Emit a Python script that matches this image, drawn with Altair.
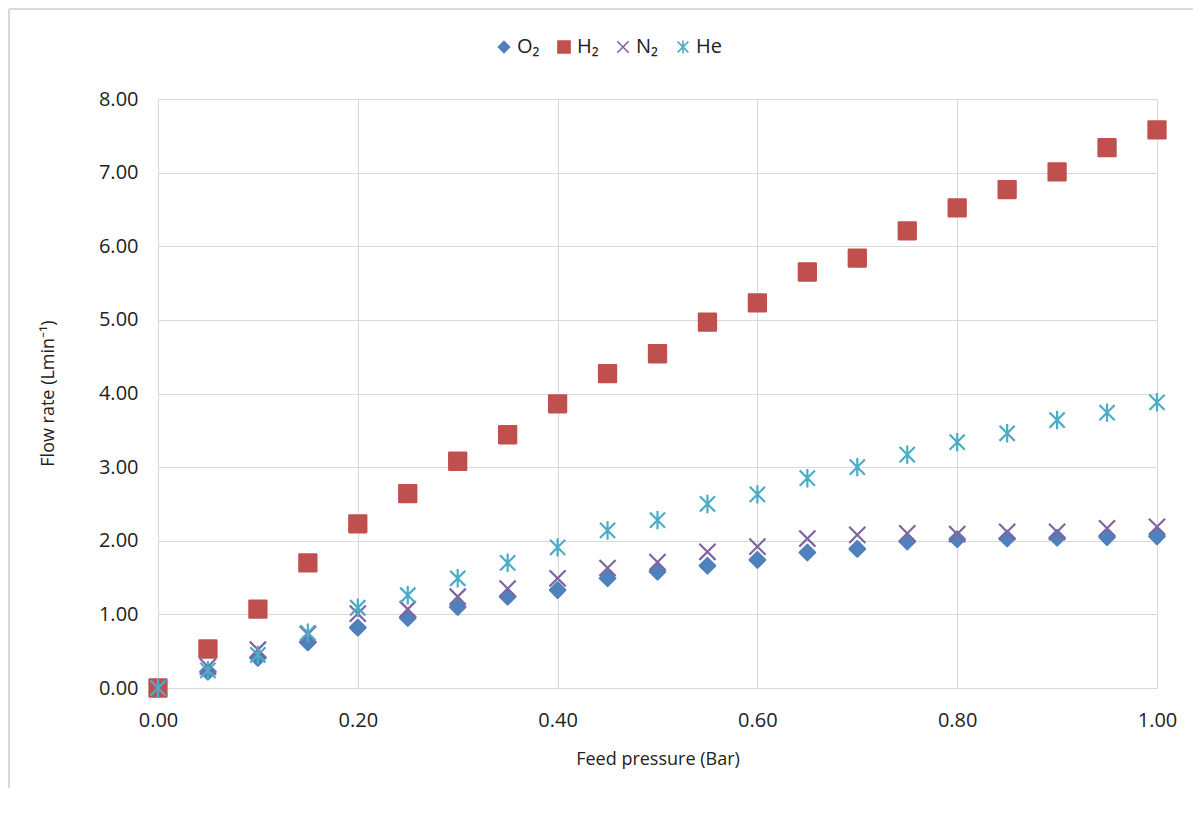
import altair as alt
import pandas as pd

pressure = [0.00, 0.05, 0.10, 0.15, 0.20, 0.25, 0.30, 0.35, 0.40, 0.45, 0.50,
            0.55, 0.60, 0.65, 0.70, 0.75, 0.80, 0.85, 0.90, 0.95, 1.00]
o2 = [0.00, 0.22, 0.41, 0.62, 0.82, 0.95, 1.10, 1.24, 1.33, 1.49, 1.58,
      1.66, 1.74, 1.84, 1.89, 1.99, 2.02, 2.03, 2.04, 2.05, 2.06]
h2 = [0.00, 0.53, 1.07, 1.70, 2.23, 2.64, 3.08, 3.44, 3.86, 4.27, 4.54,
      4.97, 5.23, 5.65, 5.84, 6.21, 6.52, 6.77, 7.01, 7.34, 7.58]
n2 = [0.00, 0.29, 0.52, 0.73, 1.01, 1.07, 1.24, 1.35, 1.49, 1.63, 1.71,
      1.85, 1.92, 2.03, 2.08, 2.10, 2.09, 2.12, 2.12, 2.17, 2.19]
he = [0.00, 0.24, 0.45, 0.75, 1.09, 1.26, 1.49, 1.70, 1.91, 2.14, 2.28,
      2.50, 2.63, 2.85, 3.00, 3.17, 3.34, 3.46, 3.64, 3.74, 3.88]

gases = ["O₂", "H₂", "N₂", "He"]
colors = ["#4F81BD", "#C0504D", "#8064A2", "#4BACC6"]
shapes = [
    "M0,-0.82L0.82,0L0,0.82L-0.82,0Z",
    "M-0.9,-0.9L0.9,-0.9L0.9,0.9L-0.9,0.9Z",
    "M-0.85,-0.85L0.85,0.85M0.85,-0.85L-0.85,0.85",
    "M-0.8,-0.8L0.8,0.8M0.8,-0.8L-0.8,0.8M0,-0.97L0,0.97",
]

rows = []
for k, (g, vals) in enumerate(zip(gases, [o2, h2, n2, he])):
    for p, v in zip(pressure, vals):
        rows.append({"p": p, "v": v, "gas": g, "k": k})
df = pd.DataFrame(rows)

FONT = "Open Sans"
col_scale = alt.Scale(domain=gases, range=colors)
shp_scale = alt.Scale(domain=gases, range=shapes)


def leg():
    return alt.Legend(
        title=None, orient="none", direction="horizontal",
        legendX=336, legendY=-62, symbolSize=180, symbolStrokeWidth=1.6,
        labelFont=FONT, labelFontSize=20, labelColor="#222222",
        labelOffset=3, columnPadding=14, symbolType="circle",
    )


points = alt.Chart(df).mark_point(
    size=361, strokeWidth=2.2, opacity=1, filled=False, strokeJoin="round"
).encode(
    x=alt.X("p:Q", scale=alt.Scale(domain=[0, 1], nice=False),
            axis=alt.Axis(values=[0, 0.2, 0.4, 0.6, 0.8, 1.0], format=".2f",
                          title="Feed pressure (Bar)", grid=True,
                          gridColor="#d9d9d9", domain=False, ticks=False,
                          labelFlush=False,
                          labelPadding=22, labelFontSize=20, labelFont=FONT,
                          labelColor="#222222", titleFont=FONT,
                          titleFontSize=18, titleFontWeight="normal",
                          titleColor="#222222", titlePadding=20)),
    y=alt.Y("v:Q", scale=alt.Scale(domain=[0, 8], nice=False),
            axis=alt.Axis(values=[0, 1, 2, 3, 4, 5, 6, 7, 8], format=".2f",
                          title="Flow rate (Lmin⁻¹)", grid=True,
                          gridColor="#d9d9d9", domain=False, ticks=False,
                          labelFlush=False,
                          labelPadding=20, labelFontSize=20, labelFont=FONT,
                          labelColor="#222222", titleFont=FONT,
                          titleFontSize=18, titleFontWeight="normal",
                          titleColor="#222222", titleX=-110, titleY=294,
                          titleAngle=-90, titleAlign="center",
                          titleBaseline="middle")),
    shape=alt.Shape("gas:N", scale=shp_scale, legend=leg()),
    stroke=alt.Stroke("gas:N", scale=col_scale, legend=leg()),
    fill=alt.Fill("gas:N", scale=col_scale, legend=leg()),
    order=alt.Order("k:Q"),
)

frame = alt.Chart(pd.DataFrame({"a": [0]})).mark_rule(
    color="#d9d9d9", strokeWidth=2
).encode(x=alt.value(-149), y=alt.value(-90), y2=alt.value(720))
frame_top = alt.Chart(pd.DataFrame({"a": [0]})).mark_rule(
    color="#d9d9d9", strokeWidth=2
).encode(x=alt.value(-149), x2=alt.value(1040), y=alt.value(-90))

chart = alt.layer(frame, frame_top, points).properties(
    width=999, height=589,
    autosize=alt.AutoSizeParams(type="none"),
    padding={"left": 150, "top": 91, "right": 36, "bottom": 100},
).configure_view(stroke=None)

chart.save("out.html", embed_options={"renderer": "svg", "actions": False})
